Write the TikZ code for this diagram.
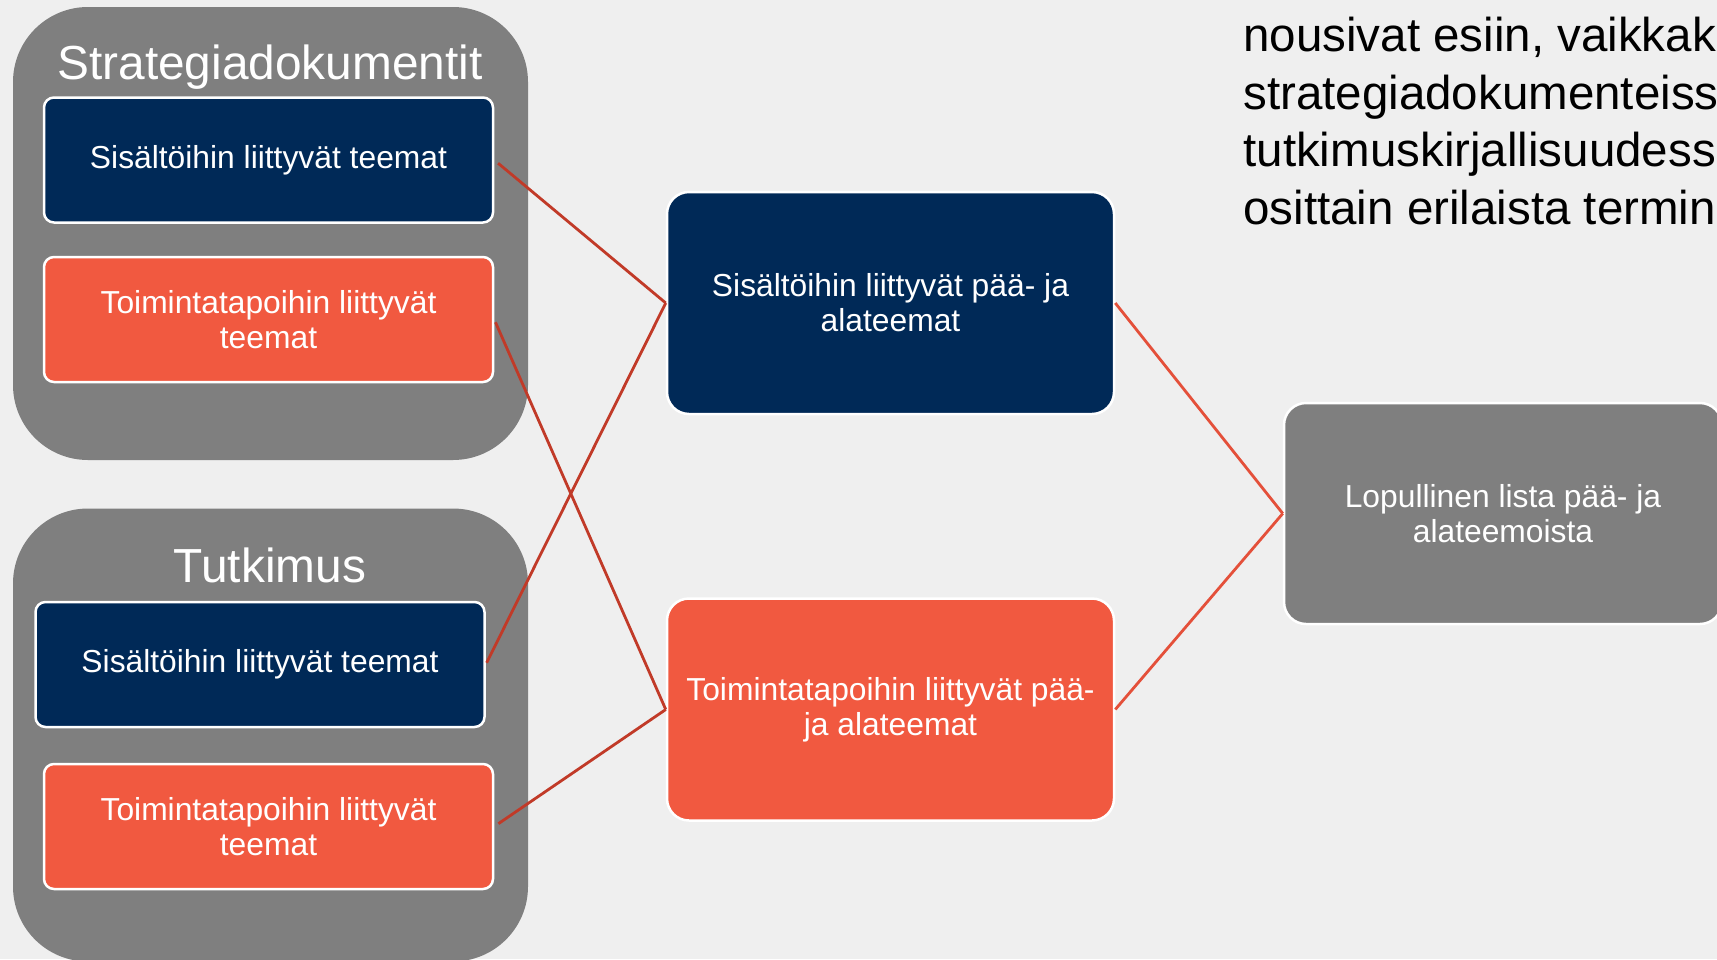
\documentclass[tikz,border=0pt]{standalone}
\usepackage{fontspec}
\setmainfont{Liberation Sans}
\usepackage{tikz}
\usetikzlibrary{arrows, arrows.meta, positioning}

\definecolor{navy}{HTML}{002957}
\definecolor{coral}{HTML}{F15940}
\definecolor{slate}{HTML}{7F7F7F}
\definecolor{paper}{HTML}{EFEFEF}
\definecolor{wire}{HTML}{C13A28}
\definecolor{wirelight}{HTML}{E4503A}

\begin{document}
\begin{tikzpicture}[x=0.5pt,y=-0.5pt,
	group/.style={fill=slate, rounded corners=37.5pt, minimum width=257.5pt, minimum height=226.5pt, inner sep=0pt},
	grouptitle/.style={text=white, anchor=base, inner sep=0pt, font=\fontsize{23.9}{28}\selectfont},
	theme/.style={draw=white, line width=1.25pt, rounded corners=5pt, minimum width=224.5pt, minimum height=62.5pt,
		text=white, align=center, font=\fontsize{15.9}{17.5}\selectfont},
	merged/.style={theme, rounded corners=11pt, minimum width=223.5pt, minimum height=111pt},
	link/.style={draw=wire, line width=1.4pt},
	linklight/.style={draw=wirelight, line width=1.4pt}]

			      \clip (0,0) rectangle (1717,959);
			      \fill[paper] (0,0) rectangle (1717,959);

			      \node[group] (grpS) at (270.5,233.5) {};
			      \node[group] (grpT) at (270.5,735) {};
			      \node[grouptitle] (titS) at (270,79) {Strategiadokumentit};
			      \node[grouptitle] (titT) at (270,582) {Tutkimus};

			      \node[theme, fill=navy] (s1) at (268.5,160) {Sisältöihin liittyvät teemat};
			      \node[theme, fill=coral] (s2) at (268.5,319.5) {Toimintatapoihin liittyvät\\teemat};
			      \node[theme, fill=navy] (t1) at (260,664.5) {Sisältöihin liittyvät teemat};
			      \node[theme, fill=coral] (t2) at (268.5,826.5) {Toimintatapoihin liittyvät\\teemat};

			      \node[merged, fill=navy] (m1) at (890.5,303) {Sisältöihin liittyvät pää- ja\\alateemat};
			      \node[merged, fill=coral] (m2) at (890.5,709.5) {Toimintatapoihin liittyvät pää-\\ja alateemat};
			      \node[merged, fill=slate, minimum width=219pt, minimum height=110.5pt] (fin) at (1503,513.5) {Lopullinen lista pää- ja\\alateemoista};

			      \node[anchor=north west, align=left, inner sep=0pt, font=\fontsize{23.75}{28.75}\selectfont] (note) at (1243,17)
			      {nousivat esiin, vaikkak\\strategiadokumenteiss\\tutkimuskirjallisuudess\\osittain erilaista termin};

			      \path
			      (s1.east) edge [link, shorten <=2.5pt] (m1.west)
			      (t1.east) edge [link, shorten <=1pt] (m1.west)

			      (s2.east) edge [link, shorten <=1.5pt] (m2.west)
			      (t2.east) edge [link, shorten <=2.5pt] (m2.west)

			      (m1.east) edge [linklight] (fin.west)
			      (m2.east) edge [linklight] (fin.west)
			      ;
		      \end{tikzpicture}
\end{document}
